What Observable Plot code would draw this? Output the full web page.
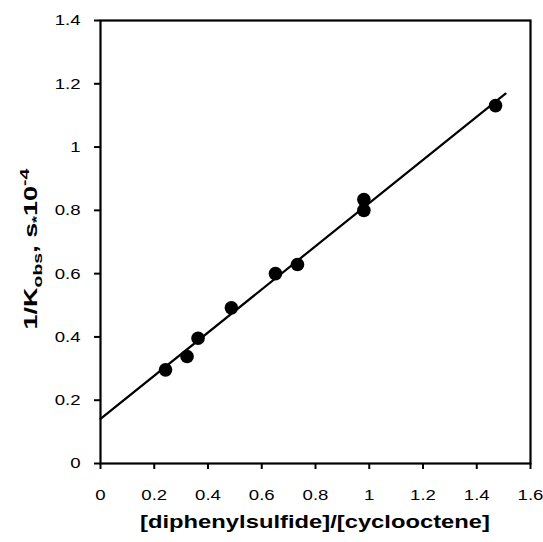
<!DOCTYPE html>
<html>
<head>
<meta charset="utf-8">
<script src="https://cdn.jsdelivr.net/npm/d3@7"></script>
<script src="https://cdn.jsdelivr.net/npm/@observablehq/plot@0.6"></script>
<style>
  html, body { margin: 0; padding: 0; background: #fff; }
  svg { display: block; }
</style>
</head>
<body>
<div id="chart"></div>
<script>
// Data
const ratio = [0.242, 0.322, 0.363, 0.487, 0.651, 0.733, 0.980, 0.980, 1.470];
const invK  = [0.296, 0.338, 0.396, 0.492, 0.600, 0.629, 0.834, 0.800, 1.131];
// fitted line endpoints
const fitX = [0, 1.507];
const fitY = [0.141, 1.169];
const xTicks = [0, 0.2, 0.4, 0.6, 0.8, 1, 1.2, 1.4, 1.6];
const yTicks = [0, 0.2, 0.4, 0.6, 0.8, 1, 1.2, 1.4];
const xLabel = "[diphenylsulfide]/[cyclooctene]";

const points = ratio.map((x, i) => ({x, y: invK[i]}));
const fit = fitX.map((x, i) => ({x, y: fitY[i]}));

const font = "Liberation Sans, Arial, Helvetica, sans-serif";

const plot = Plot.plot({
  width: 543,
  height: 542,
  marginLeft: 100,
  marginRight: 13,
  marginTop: 20,
  marginBottom: 79,
  style: {fontFamily: font, fontSize: "15.5px", background: "#fff", color: "#000"},
  x: {domain: [0, 1.6], label: null},
  y: {domain: [0, 1.4], label: null},
  marks: [
    Plot.axisX({ticks: xTicks, tickFormat: d => String(d), tickSize: 6, tickPadding: 19, strokeWidth: 2, fontSize: 15.5}),
    Plot.axisY({ticks: yTicks, tickFormat: d => String(d), tickSize: 6, tickPadding: 14, strokeWidth: 2, fontSize: 15.5}),
    Plot.frame({stroke: "#000", strokeWidth: 2.2}),
    Plot.line(fit, {x: "x", y: "y", stroke: "#000", strokeWidth: 2.2}),
    Plot.dot(points, {x: "x", y: "y", r: 6.8, fill: "#000", stroke: "none"})
  ]
});
document.getElementById("chart").appendChild(plot);

// widen tick labels horizontally, like the reference's stretched glyphs
plot.querySelectorAll('g[aria-label="x-axis tick label"] text, g[aria-label="y-axis tick label"] text').forEach(t => {
  const tr = t.getAttribute("transform") || "";
  t.setAttribute("transform", tr + " scale(1.2,1)");
});

// Axis titles
const ns = "http://www.w3.org/2000/svg";
const xt = document.createElementNS(ns, "text");
xt.setAttribute("text-anchor", "middle");
xt.setAttribute("font-family", font);
xt.setAttribute("font-size", "18");
xt.setAttribute("font-weight", "bold");
xt.textContent = xLabel;
plot.appendChild(xt);
{
  const w = xt.getBBox().width;
  const k = 350 / w;
  xt.setAttribute("transform", `translate(315,528) scale(${k},1)`);
}

const yt = document.createElementNS(ns, "text");
yt.setAttribute("text-anchor", "middle");
yt.setAttribute("font-family", font);
yt.setAttribute("font-size", "18");
yt.setAttribute("font-weight", "bold");
const parts = [
  ["1/K", null, null],
  ["obs", "5", "13"],
  [", s", "-5", null],
  ["*", "4", "12"],
  ["10", "-4", null],
  ["-4", "-8", "13"]
];
parts.forEach(([t, dy, fs]) => {
  const s = document.createElementNS(ns, "tspan");
  if (dy) s.setAttribute("dy", dy);
  if (fs) s.setAttribute("font-size", fs);
  s.textContent = t;
  yt.appendChild(s);
});
plot.appendChild(yt);
{
  const w = yt.getBBox().width;
  const k = 162 / w;
  yt.setAttribute("transform", `translate(37,249) rotate(-90) scale(${k},1)`);
}
</script>
</body>
</html>
